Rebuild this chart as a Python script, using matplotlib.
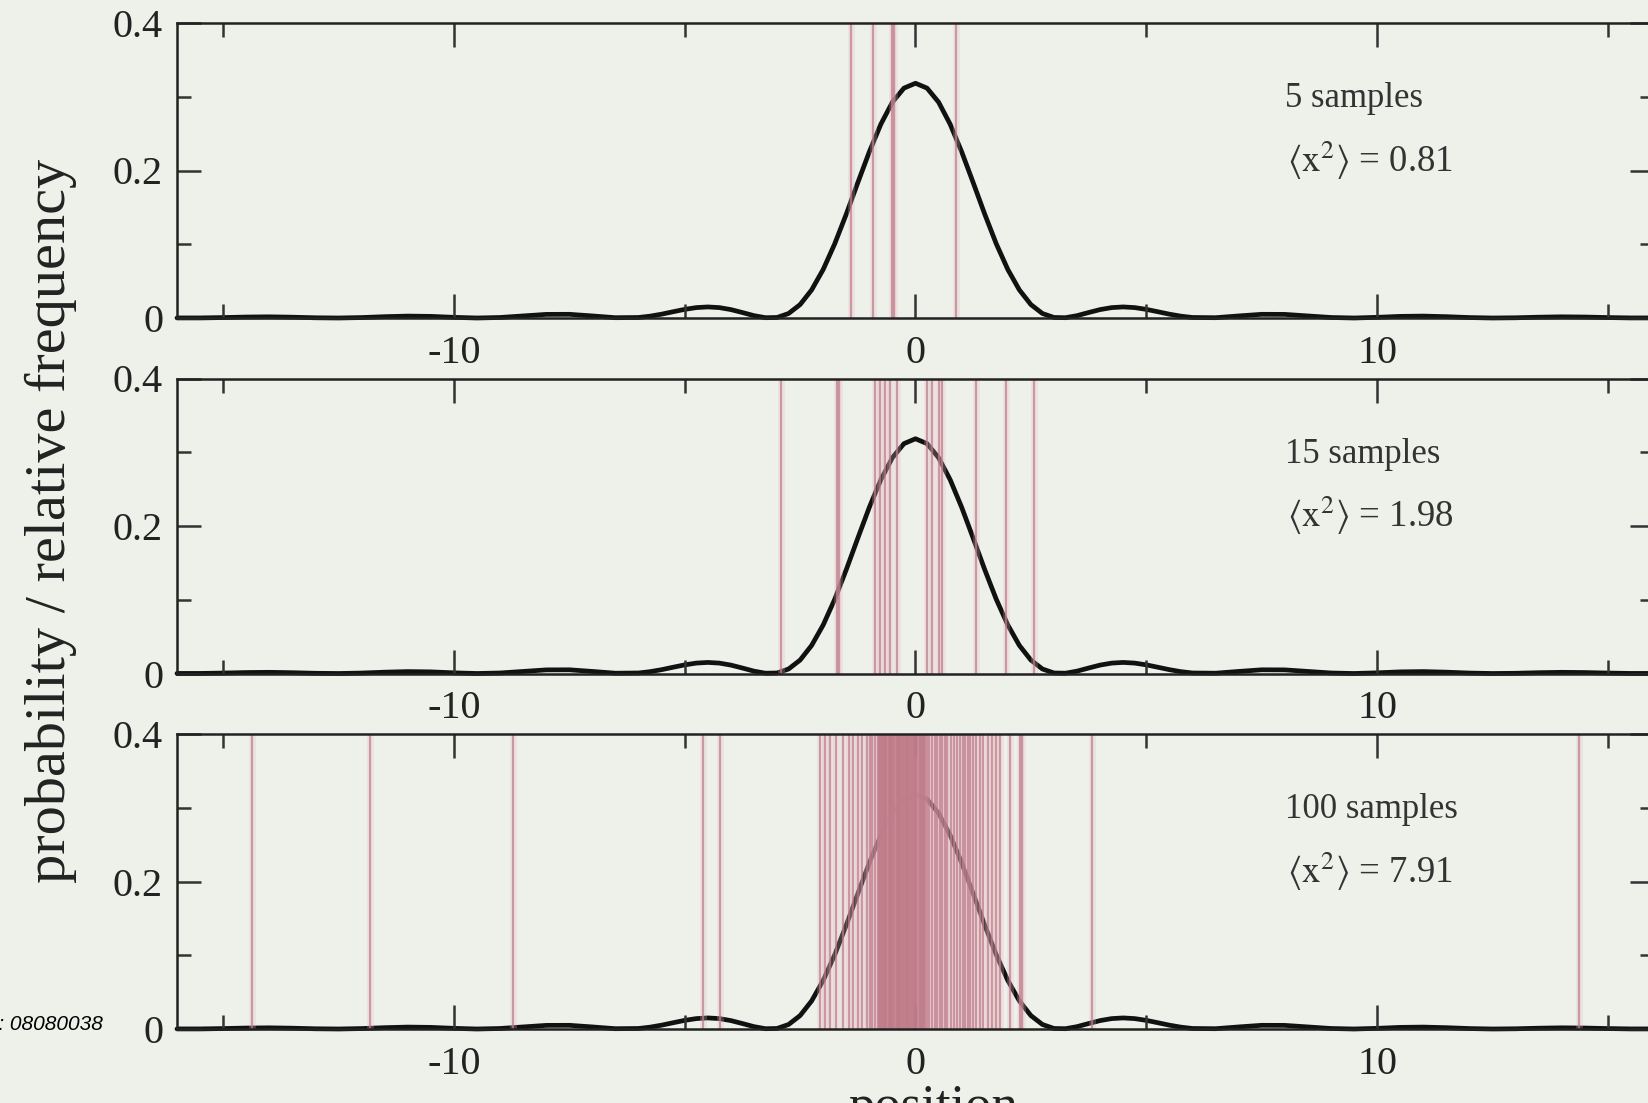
import matplotlib
matplotlib.use("Agg")
import matplotlib.pyplot as plt
from matplotlib.ticker import MultipleLocator, FixedLocator, FixedFormatter

plt.rcParams['font.family'] = ['Liberation Serif', 'DejaVu Serif']
plt.rcParams['mathtext.fontset'] = 'stix'
plt.rcParams['axes.unicode_minus'] = False

# probability curve
position = [-16.0, -15.5, -15.0, -14.5, -14.0, -13.5, -13.0, -12.5, -12.0, -11.5,
            -11.0, -10.5, -10.0, -9.5, -9.0, -8.5, -8.0, -7.5, -7.0, -6.5,
            -6.0, -5.75, -5.5, -5.25, -5.0, -4.75, -4.5, -4.25, -4.0, -3.75,
            -3.5, -3.25, -3.0, -2.75, -2.5, -2.25, -2.0, -1.75, -1.5, -1.25,
            -1.0, -0.75, -0.5, -0.25, 0.0, 0.25, 0.5, 0.75, 1.0, 1.25,
            1.5, 1.75, 2.0, 2.25, 2.5, 2.75, 3.0, 3.25, 3.5, 3.75,
            4.0, 4.25, 4.5, 4.75, 5.0, 5.25, 5.5, 5.75, 6.0,
            6.5, 7.0, 7.5, 8.0, 8.5, 9.0, 9.5, 10.0, 10.5, 11.0,
            11.5, 12.0, 12.5, 13.0, 13.5, 14.0, 14.5, 15.0, 15.5, 16.0]
probability = [0.0001, 0.0001, 0.0006, 0.0013, 0.0016, 0.0011, 0.0003, 0.0000, 0.0006, 0.0018,
               0.0026, 0.0022, 0.0009, 0.0000, 0.0007, 0.0028, 0.0049, 0.0050, 0.0028, 0.0004,
               0.0007, 0.0025, 0.0052, 0.0085, 0.0117, 0.0141, 0.0150, 0.0141, 0.0114, 0.0074,
               0.0032, 0.0004, 0.0007, 0.0061, 0.0182, 0.0381, 0.0658, 0.1006, 0.1408, 0.1835,
               0.2254, 0.2629, 0.2927, 0.3117, 0.3183, 0.3117, 0.2927, 0.2629, 0.2254, 0.1835,
               0.1408, 0.1006, 0.0658, 0.0381, 0.0182, 0.0061, 0.0007, 0.0004, 0.0032, 0.0074,
               0.0114, 0.0141, 0.0150, 0.0141, 0.0117, 0.0085, 0.0052, 0.0025, 0.0007,
               0.0004, 0.0028, 0.0050, 0.0049, 0.0028, 0.0007, 0.0000, 0.0009, 0.0022, 0.0026,
               0.0018, 0.0006, 0.0000, 0.0003, 0.0011, 0.0016, 0.0013, 0.0006, 0.0001, 0.0001]

# sample positions (vertical lines)
samples_5 = [-1.39, -0.92, -0.50, -0.46, 0.87]
samples_15 = [-2.91, -1.69, -1.66, -0.87, -0.76, -0.66, -0.55, -0.40,
              0.25, 0.36, 0.50, 0.58, 1.32, 1.95, 2.56]
samples_100 = [-14.38, -11.82, -8.72, -4.61, -4.24, 3.83, 14.38,
               -2.07, -1.96, -1.85, -1.72, -1.57, -1.45, -1.35, -1.25, -1.16, -1.05,
               -0.98, -0.94, -0.88, -0.81,
               -0.78, -0.77, -0.74, -0.73, -0.70, -0.69, -0.67, -0.66, -0.63, -0.61,
               -0.58, -0.57, -0.55, -0.54, -0.52, -0.50, -0.49, -0.46, -0.44, -0.41,
               -0.40, -0.38, -0.36, -0.35, -0.33, -0.31, -0.29, -0.27, -0.25, -0.22,
               -0.21, -0.19, -0.18, -0.16, -0.14, -0.12, -0.10, -0.07, -0.05, -0.04,
               -0.01, 0.00, 0.02, 0.04, 0.07, 0.09, 0.11, 0.14, 0.16, 0.18, 0.21,
               0.25, 0.30, 0.36, 0.42, 0.47, 0.53, 0.58, 0.64, 0.68, 0.76,
               0.83, 0.90, 0.96, 1.03, 1.08, 1.14, 1.19, 1.24,
               1.30, 1.40, 1.46, 1.58, 1.66, 1.74, 1.83, 2.05, 2.26, 2.31]

panel_samples = [samples_5, samples_15, samples_100]
panel_labels = ['5 samples', '15 samples', '100 samples']
panel_means = ['0.81', '1.98', '7.91']

bg = '#eef0ea'
line_col = '#bf7c88'
ink = '#222222'

fig = plt.figure(figsize=(16.49, 11.03), dpi=100, facecolor=bg)

W, H = 1649.0, 1103.0
left = 177 / W
width = (1654 - 177) / W
tops = [23, 378.5, 734]
ph = 295

for i in range(3):
    bottom = 1 - (tops[i] + ph) / H
    ax = fig.add_axes([left, bottom, width, ph / H])
    ax.set_facecolor(bg)
    ax.set_axisbelow(False)

    ax.plot(position, probability, color='#111111', lw=3.4, zorder=2, clip_on=False,
            solid_capstyle='round')
    # soft pink halo + thin line for each sample
    ax.vlines(panel_samples[i], 0, 0.4, colors='#e8b8c8', lw=5, alpha=0.25, zorder=2.5)
    ax.vlines(panel_samples[i], 0, 0.4, colors=line_col, lw=1.6, alpha=0.72, zorder=3)

    ax.set_xlim(-16, 16)
    ax.set_ylim(0, 0.4)
    ax.xaxis.set_major_locator(MultipleLocator(10))
    ax.xaxis.set_minor_locator(MultipleLocator(5))
    ax.yaxis.set_major_locator(FixedLocator([0, 0.2, 0.4]))
    ax.yaxis.set_major_formatter(FixedFormatter(['0', '0.2', '0.4']))
    ax.yaxis.set_minor_locator(FixedLocator([0.1, 0.3]))

    ax.tick_params(which='both', direction='in', top=True, right=True,
                   color='#333333', width=1.8, labelsize=29, labelcolor=ink)
    ax.tick_params(which='major', length=17)
    ax.tick_params(which='minor', length=10)
    ax.tick_params(axis='x', pad=12)
    ax.tick_params(axis='y', pad=10)
    for s in ax.spines.values():
        s.set_linewidth(1.8)
        s.set_color(ink)
        s.set_zorder(4)

    ax.text(8.0, 0.286, panel_labels[i], fontsize=25, color='#333333')
    ax.text(8.05, 0.198, r'$\langle\mathrm{x}^{2}\rangle$' + ' = ' + panel_means[i],
            fontsize=26.5, color='#333333')

fig.text(0.0306, 0.5277, 'probability / relative frequency', rotation=90,
         ha='center', va='center', fontsize=42, color=ink)
fig.text(0.566, -0.016, 'position', ha='center', va='baseline', fontsize=38, color=ink)
fig.text(103 / W, 1 - 1025 / H, 'Ref.-Nr: 08080038', ha='right', va='center',
         fontsize=15, style='italic', family='Liberation Sans', color='black')

fig.savefig('out.png', dpi=100, facecolor=bg)
